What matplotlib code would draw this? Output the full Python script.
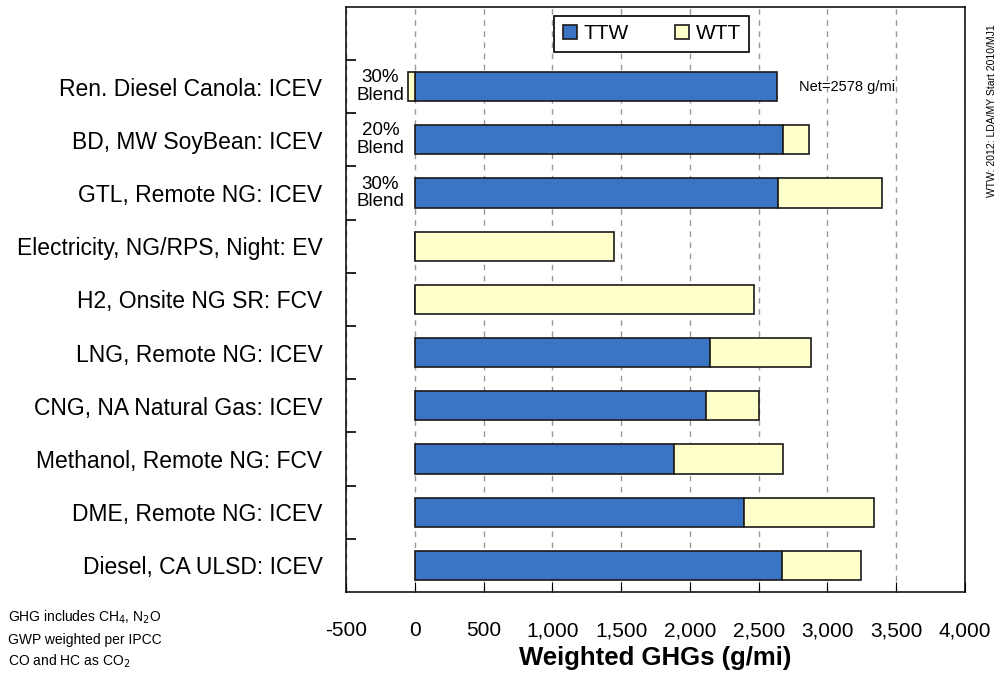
import numpy as np
import matplotlib.pyplot as plt
from matplotlib.ticker import FuncFormatter

plt.rcParams['font.family'] = ['Liberation Sans', 'DejaVu Sans']

# pathways, listed top to bottom as in the chart
pathways = [
    'Ren. Diesel Canola: ICEV',
    'BD, MW SoyBean: ICEV',
    'GTL, Remote NG: ICEV',
    'Electricity, NG/RPS, Night: EV',
    'H2, Onsite NG SR: FCV',
    'LNG, Remote NG: ICEV',
    'CNG, NA Natural Gas: ICEV',
    'Methanol, Remote NG: FCV',
    'DME, Remote NG: ICEV',
    'Diesel, CA ULSD: ICEV',
]
ttw = [2630, 2678, 2637, 0, 0, 2149, 2115, 1887, 2394, 2669]
wtt = [-52, 188, 758, 1447, 2466, 733, 391, 791, 943, 578]
blends = ['30%\nBlend', '20%\nBlend', '30%\nBlend']
x_ticks = [-500, 0, 500, 1000, 1500, 2000, 2500, 3000, 3500, 4000]

ttw_color = '#3A74C4'
wtt_color = '#FFFFCC'

n = len(pathways)
y = np.arange(n)[::-1]
# WTT stacks on top of TTW when positive, goes left of zero when negative
wtt_left = [t if w > 0 else 0 for t, w in zip(ttw, wtt)]

fig = plt.figure(figsize=(10, 6.75), dpi=100)
ax = fig.add_axes([0.346, 0.123, 0.619, 0.867])

ax.barh(y, ttw, height=0.55, color=ttw_color, edgecolor='#1a1a1a', linewidth=1.2, label='TTW', zorder=3)
ax.barh(y, wtt, left=wtt_left, height=0.55, color=wtt_color, edgecolor='#1a1a1a', linewidth=1.2, label='WTT', zorder=3)

# blend labels left of the first three bars
for i, txt in enumerate(blends):
    ax.text(-250, y[i], txt, ha='center', va='center', fontsize=13.5, linespacing=1.05)

net = ttw[0] + wtt[0]
ax.text(2790, y[0], f'Net={net} g/mi', ha='left', va='center', fontsize=10.5)

ax.set_xlim(-500, 4000)
ax.set_ylim(-0.5, n + 0.5)
ax.set_xticks(x_ticks)
ax.xaxis.set_major_formatter(FuncFormatter(lambda v, _: f'{v:,.0f}'))
ax.tick_params(axis='x', direction='in', length=7, pad=21, labelsize=15)

ax.set_yticks(y)
ax.set_yticklabels(pathways)
ax.tick_params(axis='y', length=0, pad=17, labelsize=16.5)
ax.set_yticks(np.arange(n) + 0.5, minor=True)
ax.tick_params(axis='y', which='minor', direction='in', length=7, width=1.2)

ax.grid(axis='x', linestyle=(0, (4, 4)), color='#999999', linewidth=1)
ax.set_axisbelow(True)
for s in ax.spines.values():
    s.set_linewidth(1.1)

ax.set_xlabel('Weighted GHGs (g/mi)', fontsize=18.5, fontweight='bold', labelpad=4)

leg = ax.legend(loc='center', bbox_to_anchor=(0.494, 0.954), ncol=2, fancybox=False,
                edgecolor='black', framealpha=1, fontsize=15, handlelength=0.7,
                handleheight=0.7, columnspacing=2.2, handletextpad=0.3, borderpad=0.4)
leg.get_frame().set_linewidth(1.2)

fig.text(0.008, 1 - 617 / 675, 'GHG includes CH$_4$, N$_2$O', fontsize=10, va='center')
fig.text(0.008, 1 - 640 / 675, 'GWP weighted per IPCC', fontsize=10, va='center')
fig.text(0.008, 1 - 661 / 675, 'CO and HC as CO$_2$', fontsize=10, va='center')

fig.text(0.992, 1 - 111 / 675, 'WTW: 2012: LDA/MY Start 2010/MJ1', rotation=90,
         ha='center', va='center', fontsize=7.5)

fig.savefig('out.png', dpi=100)
